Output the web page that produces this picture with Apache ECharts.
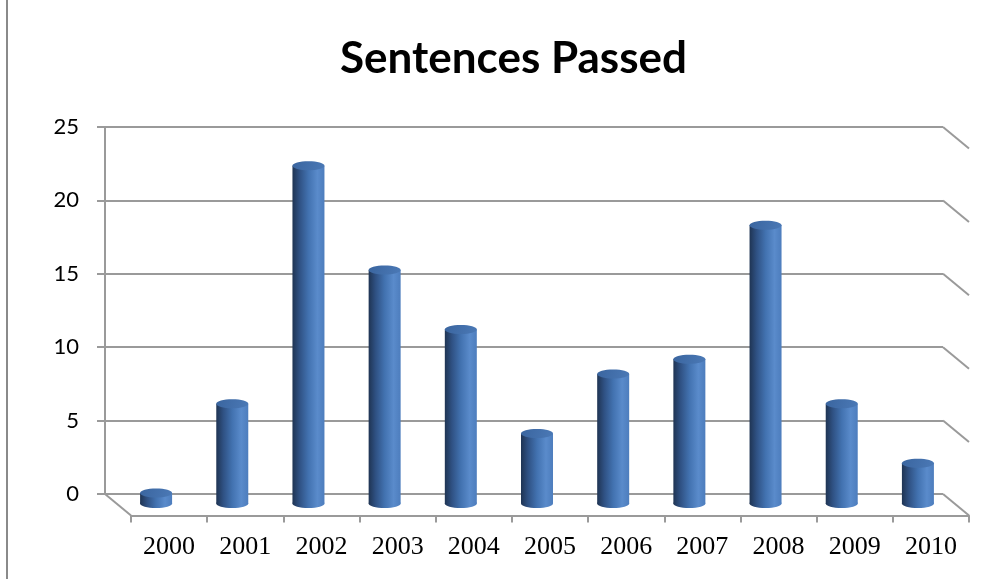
<!DOCTYPE html>
<html>
<head>
<meta charset="utf-8">
<title>Sentences Passed</title>
<script src="https://cdn.jsdelivr.net/npm/echarts@6/dist/echarts.min.js"></script>
<style>
  html, body { margin: 0; padding: 0; background: #fff; }
  #chart { width: 1008px; height: 579px; }
</style>
</head>
<body>
<div id="chart"></div>
<script>
// Years and number of sentences passed in each
const categories = ['2000', '2001', '2002', '2003', '2004', '2005', '2006', '2007', '2008', '2009', '2010'];
const sentences = [0, 6, 22, 15, 11, 4, 8, 9, 18, 6, 2];
const yTicks = [0, 5, 10, 15, 20, 25];

// Oblique depth of the 3D box (px) and wall placement
const DEPTH_X = 26;
const DEPTH_Y = 21.5;
const WALL = { left: 105, right: 65, top: 127, bottom: 85 };
const GRID_COLOR = '#9a9a9a';

const chart = echarts.init(document.getElementById('chart'), null, { renderer: 'canvas' });

// Side edges of the walls: a short diagonal at the right end of every gridline,
// plus the left edge of the floor
function renderEdges(params, api) {
  const cs = params.coordSys;
  const v = api.value(1);
  const y = api.coord([0, v])[1];
  const xr = cs.x + cs.width;
  const children = [{
    type: 'line',
    shape: { x1: xr, y1: y, x2: xr + DEPTH_X, y2: y + DEPTH_Y },
    style: { stroke: GRID_COLOR, lineWidth: 2 }
  }];
  if (v === 0) {
    children.push({
      type: 'line',
      shape: { x1: cs.x, y1: y, x2: cs.x + DEPTH_X, y2: y + DEPTH_Y },
      style: { stroke: GRID_COLOR, lineWidth: 2 }
    });
  }
  return { type: 'group', children: children };
}

// A shaded cylinder standing in the middle of the box depth
function renderCylinder(params, api) {
  const i = api.value(0);
  const v = api.value(1);
  const p0 = api.coord([i, 0]);
  const pv = api.coord([i, v]);
  const w = api.size([1, 0])[0] * 0.42;
  const rx = w / 2;
  const ry = 4.5;
  const cx = p0[0] + DEPTH_X / 2;
  const baseY = p0[1] + 9.5;
  const topY = p0[1] - 1 - (p0[1] - pv[1]) * 1.013;

  const bodyFill = new echarts.graphic.LinearGradient(0, 0, 1, 0, [
    { offset: 0, color: '#1f3453' },
    { offset: 0.22, color: '#2f5183' },
    { offset: 0.5, color: '#4272b0' },
    { offset: 0.78, color: '#5a8bcb' },
    { offset: 1, color: '#4d7dbd' }
  ]);
  const topFill = new echarts.graphic.LinearGradient(0, 0, 1, 1, [
    { offset: 0, color: '#3a659f' },
    { offset: 1, color: '#4b79b6' }
  ]);

  return {
    type: 'group',
    children: [
      { type: 'ellipse', shape: { cx: cx, cy: baseY, rx: rx, ry: ry }, style: { fill: bodyFill } },
      { type: 'rect', shape: { x: cx - rx, y: topY, width: w, height: baseY - topY }, style: { fill: bodyFill } },
      { type: 'ellipse', shape: { cx: cx, cy: topY, rx: rx, ry: ry }, style: { fill: topFill } }
    ]
  };
}

const option = {
  backgroundColor: '#ffffff',
  animation: false,
  title: {
    text: 'Sentences Passed',
    left: 340,
    top: 37,
    padding: 0,
    textStyle: { fontFamily: 'Lato', fontWeight: 'bold', fontSize: 44, color: '#000' }
  },
  grid: [
    { left: WALL.left, right: WALL.right, top: WALL.top, bottom: WALL.bottom },
    { left: WALL.left + DEPTH_X, right: WALL.right - DEPTH_X, top: WALL.top + DEPTH_Y, bottom: WALL.bottom - DEPTH_Y }
  ],
  xAxis: [
    { type: 'category', gridIndex: 0, data: categories, show: false, boundaryGap: true },
    {
      type: 'category', gridIndex: 1, data: categories, boundaryGap: true,
      axisLine: { show: true, lineStyle: { color: GRID_COLOR, width: 2 } },
      axisTick: { show: true, length: 7, lineStyle: { color: GRID_COLOR, width: 2 } },
      axisLabel: { fontFamily: 'Liberation Serif', fontSize: 26, color: '#000', margin: 19 }
    }
  ],
  yAxis: [
    {
      type: 'value', gridIndex: 0, min: 0, max: 25, interval: 5,
      axisLine: { show: true, lineStyle: { color: GRID_COLOR, width: 2 } },
      axisTick: { show: true, length: 8, lineStyle: { color: GRID_COLOR, width: 2 } },
      splitLine: { show: true, lineStyle: { color: GRID_COLOR, width: 2 } },
      axisLabel: { fontFamily: 'Lato', fontSize: 22, color: '#000', margin: 26 }
    },
    { type: 'value', gridIndex: 1, min: 0, max: 1, show: false }
  ],
  graphic: [
    {
      type: 'line',
      shape: { x1: 7, y1: 0, x2: 7, y2: 579 },
      style: { stroke: '#8a8a8a', lineWidth: 2 }
    }
  ],
  series: [
    {
      type: 'custom',
      xAxisIndex: 0, yAxisIndex: 0,
      renderItem: renderEdges,
      data: yTicks.map(v => [0, v]),
      clip: false,
      silent: true,
      z: 1
    },
    {
      type: 'custom',
      name: 'Sentences Passed',
      xAxisIndex: 0, yAxisIndex: 0,
      renderItem: renderCylinder,
      data: sentences.map((v, i) => [i, v]),
      clip: false,
      z: 5
    }
  ]
};

chart.setOption(option);
</script>
</body>
</html>
